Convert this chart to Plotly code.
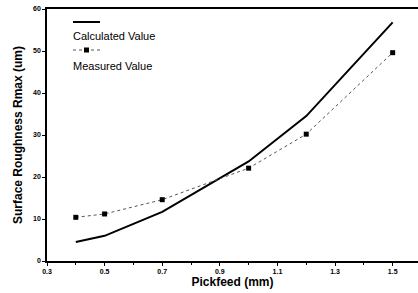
import plotly.graph_objects as go

pickfeed = [0.4, 0.5, 0.7, 1.0, 1.2, 1.5]
calculated = [4.5, 6.0, 11.7, 23.7, 34.5, 56.8]
measured = [10.4, 11.2, 14.6, 22.1, 30.2, 49.6]
x_ticks = [0.3, 0.5, 0.7, 0.9, 1.1, 1.3, 1.5]
y_ticks = [0, 10, 20, 30, 40, 50, 60]

FONT = "Liberation Sans, Arial"

fig = go.Figure()
fig.add_trace(go.Scatter(x=pickfeed, y=calculated, mode="lines",
                         line=dict(color="black", width=2), name="Calculated Value",
                         showlegend=False))
fig.add_trace(go.Scatter(x=pickfeed, y=measured, mode="lines+markers",
                         line=dict(color="#555555", width=1, dash="dot"),
                         marker=dict(symbol="square", size=5, color="black"),
                         name="Measured Value", showlegend=False))

# custom legend (paper coordinates)
def px(xp):
    return (xp - 47) / (418 - 47)

def py(yp):
    return 1 - (yp - 9) / (261 - 9)

fig.add_shape(type="line", xref="paper", yref="paper", x0=px(73), x1=px(100), y0=py(22), y1=py(22),
              line=dict(color="black", width=2))
fig.add_shape(type="line", xref="paper", yref="paper", x0=px(73), x1=px(100), y0=py(50), y1=py(50),
              line=dict(color="#555555", width=1, dash="dot"))
fig.add_shape(type="rect", xref="paper", yref="paper", x0=px(84), x1=px(89), y0=py(52.5), y1=py(47.5),
              line=dict(width=0), fillcolor="black")
fig.add_annotation(text="Calculated Value", xref="paper", yref="paper", x=px(71), y=py(36),
                   xanchor="left", yanchor="middle", showarrow=False,
                   font=dict(family=FONT, size=11, color="black"))
fig.add_annotation(text="Measured Value", xref="paper", yref="paper", x=px(71), y=py(66),
                   xanchor="left", yanchor="middle", showarrow=False,
                   font=dict(family=FONT, size=11, color="black"))

fig.update_layout(
    width=418, height=293,
    margin=dict(l=47, r=0, t=9, b=32),
    plot_bgcolor="white", paper_bgcolor="white",
    font=dict(family=FONT, color="black"),
    xaxis=dict(range=[0.3, 1.588], tickvals=x_ticks, ticktext=[f"<b>{v:.1f}</b>" for v in x_ticks],
               ticks="outside", ticklen=3, tickwidth=1, tickcolor="black", automargin=False,
               minor=dict(tickvals=[0.4, 0.6, 0.8, 1.0, 1.2, 1.4], ticks="outside", ticklen=2, tickcolor="black"),
               showline=True, linecolor="black", linewidth=1.5, mirror=True, showgrid=False, zeroline=False,
               tickfont=dict(size=7, color="black"),
               title=dict(text="<b>Pickfeed (mm)</b>", font=dict(size=12), standoff=2)),
    yaxis=dict(range=[0, 60], tickvals=y_ticks, ticktext=[f"<b>{v}</b>" for v in y_ticks],
               ticks="outside", ticklen=3, tickwidth=1, tickcolor="black", automargin=False,
               showline=True, linecolor="black", linewidth=1.5, mirror=True, showgrid=False, zeroline=False,
               tickfont=dict(size=7, color="black"),
               title=dict(text="<b>Surface Roughness Rmax (um)</b>", font=dict(size=12), standoff=8)),
)
fig.write_html("out.html", post_script="document.body.style.margin='0';",
               config={"displayModeBar": False})
